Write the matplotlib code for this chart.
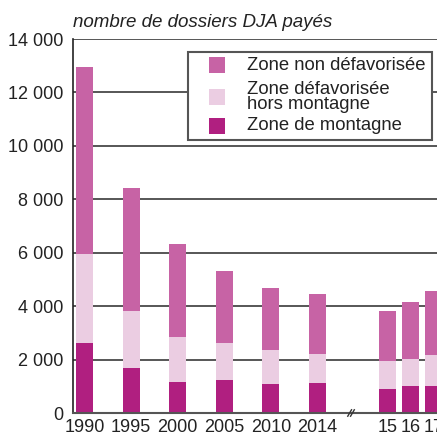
import matplotlib
matplotlib.use("Agg")
import matplotlib.pyplot as plt
from matplotlib.patches import Rectangle
from matplotlib.ticker import FuncFormatter, MultipleLocator

plt.rcParams['font.family'] = ['Liberation Sans', 'DejaVu Sans']

# values
labels = ["1990", "1995", "2000", "2005", "2010", "2014", "15", "16", "17"]
positions = [0, 1, 2, 3, 4, 5, 6.5, 7, 7.5]
montagne = [2620, 1690, 1160, 1240, 1090, 1120, 900, 1010, 1010]
defav_hors = [3330, 2130, 1690, 1390, 1270, 1090, 1050, 1010, 1160]
non_defav = [6990, 4610, 3480, 2690, 2320, 2250, 1870, 2140, 2400]

series_names = ["Zone non défavorisée", "Zone défavorisée\nhors montagne", "Zone de montagne"]

C_MONT = '#b01f80'
C_DEFAV = '#ebcde2'
C_NON = '#c763a5'

fig = plt.figure(figsize=(4.37, 4.36), dpi=100)
W, H = 437, 436
ax = fig.add_axes([73 / W, (H - 413) / H, (437 - 73) / W, (413 - 39) / H])

width = 0.366
b2 = [a + b for a, b in zip(montagne, defav_hors)]
ax.bar(positions, montagne, width, color=C_MONT, zorder=3)
ax.bar(positions, defav_hors, width, bottom=montagne, color=C_DEFAV, zorder=3)
ax.bar(positions, non_defav, width, bottom=b2, color=C_NON, zorder=3)

ax.set_xlim(-0.247, 7.565)
ax.set_ylim(0, 14000)
ax.yaxis.set_major_locator(MultipleLocator(2000))
ax.yaxis.set_major_formatter(FuncFormatter(lambda v, p: f"{int(v):,}".replace(",", " ")))
ax.set_xticks(positions)
ax.set_xticklabels(labels)
ax.tick_params(axis='both', length=0, labelsize=13, colors='#222222')
ax.tick_params(axis='x', pad=4.5)
ax.tick_params(axis='y', pad=7)

ax.grid(axis='y', color='#3a3a3a', linewidth=1.2, zorder=1)
for s in ['top', 'right']:
    ax.spines[s].set_visible(False)
ax.spines['left'].set_color('#222222')
ax.spines['left'].set_linewidth(1.2)
ax.spines['bottom'].set_color('#555555')
ax.spines['bottom'].set_linewidth(1.5)
ax.spines['bottom'].set_zorder(4)

# axis break marker between 2014 and 15
xb = (positions[5] + positions[6]) / 2 - 0.03
for dx in (-0.03, 0.03):
    ax.plot([xb + dx - 0.04, xb + dx + 0.04], [-120, 120], color='#333333',
            lw=1.0, clip_on=False, zorder=5)

fig.text(73 / W, 1 - 27 / H, "nombre de dossiers DJA payés", fontsize=13.5,
         style='italic', color='#222222', ha='left', va='baseline')

# legend box drawn by hand to match the padding of the original
fig.patches.append(Rectangle((188 / W, 1 - 140 / H), (432 - 188) / W, (140 - 52) / H,
                             transform=fig.transFigure, facecolor='white',
                             edgecolor='#555555', linewidth=1.5, zorder=6))
row_y = [65, 97, 126]
for name, col, yc in zip(series_names, [C_NON, C_DEFAV, C_MONT], row_y):
    fig.patches.append(Rectangle((209 / W, 1 - (yc + 8) / H), 16 / W, 16 / H,
                                 transform=fig.transFigure, facecolor=col,
                                 edgecolor='none', zorder=7))
    fig.text(247 / W, 1 - yc / H, name, fontsize=13.3, color='#222222',
             ha='left', va='center', linespacing=0.92, zorder=8)

fig.savefig("out.png", dpi=100)
